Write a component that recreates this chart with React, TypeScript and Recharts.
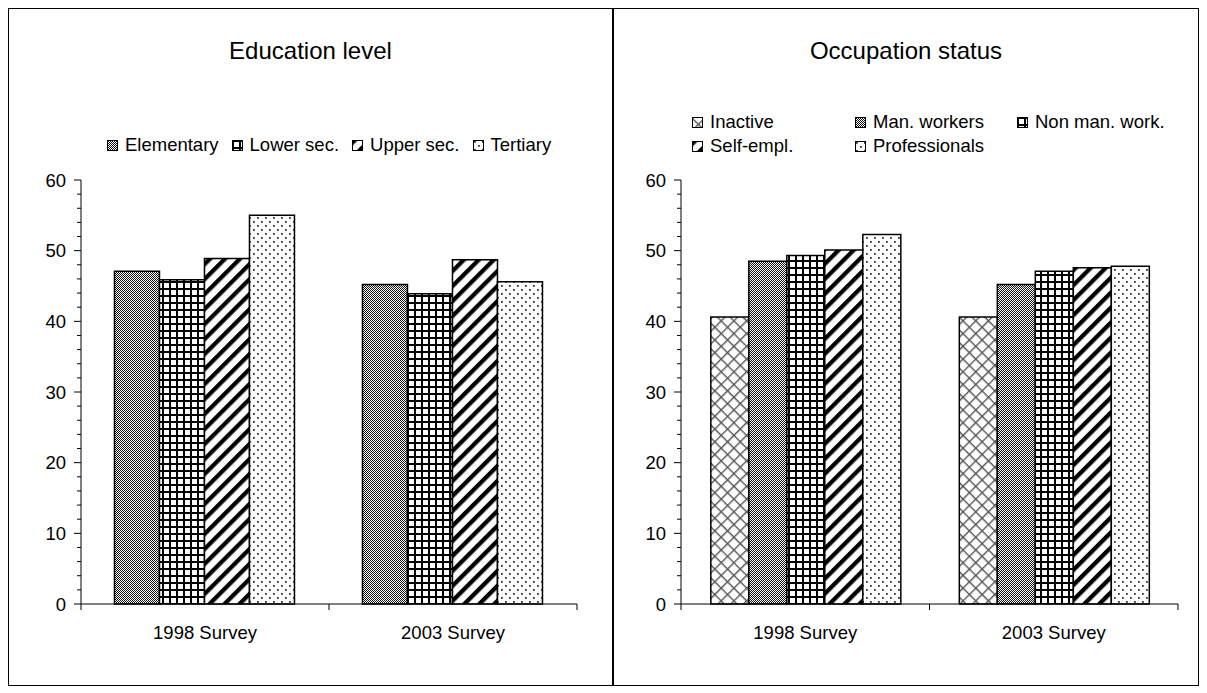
import { Bar, BarChart, XAxis, YAxis } from "recharts";

// survey categories and series values (percent)
const surveys = ["1998 Survey", "2003 Survey"];

const elementary = [47.1, 45.2];
const lowerSec = [45.9, 43.9];
const upperSec = [48.9, 48.7];
const tertiary = [55.0, 45.6];

const inactive = [40.6, 40.6];
const manWorkers = [48.5, 45.2];
const nonManWork = [49.3, 47.1];
const selfEmpl = [50.1, 47.6];
const professionals = [52.3, 47.8];

const yTicks = [0, 2, 4, 6, 8, 10, 12, 14, 16, 18, 20, 22, 24, 26, 28, 30, 32, 34, 36, 38, 40, 42, 44, 46, 48, 50, 52, 54, 56, 58, 60];

const FONT = "'Liberation Sans', Arial, Helvetica, sans-serif";
const LABEL_SIZE = 18.5;

type Series = { key: string; label: string; values: number[]; pattern: string };

const educationSeries: Series[] = [
  { key: "elementary", label: "Elementary", values: elementary, pattern: "pat-check" },
  { key: "lowerSec", label: "Lower sec.", values: lowerSec, pattern: "pat-grid" },
  { key: "upperSec", label: "Upper sec.", values: upperSec, pattern: "pat-stripe" },
  { key: "tertiary", label: "Tertiary", values: tertiary, pattern: "pat-dots" },
];

const occupationSeries: Series[] = [
  { key: "inactive", label: "Inactive", values: inactive, pattern: "pat-cross" },
  { key: "manWorkers", label: "Man. workers", values: manWorkers, pattern: "pat-check" },
  { key: "nonManWork", label: "Non man. work.", values: nonManWork, pattern: "pat-grid" },
  { key: "selfEmpl", label: "Self-empl.", values: selfEmpl, pattern: "pat-stripe" },
  { key: "professionals", label: "Professionals", values: professionals, pattern: "pat-dots" },
];

function buildRows(series: Series[]) {
  return surveys.map((name, i) => {
    const row: Record<string, string | number> = { name };
    series.forEach((s) => {
      row[s.key] = s.values[i];
    });
    return row;
  });
}

// shared fill patterns, referenced by bars and legend swatches
function PatternDefs() {
  return (
    <svg width={0} height={0} style={{ position: "absolute" }} aria-hidden>
      <defs>
        <pattern id="pat-check" width={2} height={2} patternUnits="userSpaceOnUse">
          <rect width={2} height={2} fill="#fff" />
          <rect x={0} y={0} width={1} height={1} fill="#111" />
          <rect x={1} y={1} width={1} height={1} fill="#111" />
        </pattern>
        <pattern id="pat-grid" width={7} height={7} patternUnits="userSpaceOnUse">
          <rect width={7} height={7} fill="#fff" />
          <rect x={0} y={0} width={7} height={2} fill="#000" />
          <rect x={0} y={0} width={2} height={7} fill="#000" />
        </pattern>
        <pattern
          id="pat-stripe"
          width={10.6}
          height={10}
          patternUnits="userSpaceOnUse"
          patternTransform="rotate(45)"
        >
          <rect width={10.6} height={10} fill="#fff" />
          <rect x={0} y={0} width={4.3} height={10} fill="#000" />
        </pattern>
        <pattern id="pat-dots" width={8} height={8} patternUnits="userSpaceOnUse">
          <rect width={8} height={8} fill="#fff" />
          <rect x={1} y={1} width={1.8} height={1.8} fill="#333" />
          <rect x={5} y={5} width={1.8} height={1.8} fill="#333" />
        </pattern>
        <pattern
          id="pat-cross"
          width={9}
          height={9}
          patternUnits="userSpaceOnUse"
          patternTransform="rotate(45)"
        >
          <rect width={9} height={9} fill="#fff" />
          <rect x={0} y={0} width={9} height={1.4} fill="#555" />
          <rect x={0} y={0} width={1.4} height={9} fill="#555" />
        </pattern>
      </defs>
    </svg>
  );
}

function YTick(props: any) {
  const { x, y, payload } = props;
  const v = payload.value as number;
  const major = v % 10 === 0;
  return (
    <g>
      <line x1={x - (major ? 7 : 4)} x2={x} y1={y} y2={y} stroke="#000" strokeWidth={1} />
      {major && (
        <text x={x - 15} y={y} dy={6.5} textAnchor="end" fontSize={LABEL_SIZE} fontFamily={FONT} fill="#000">
          {v}
        </text>
      )}
    </g>
  );
}

function XTick(props: any) {
  const { x, y, payload, index, visibleTicksCount } = props;
  const half = payload?.offset ?? 124;
  const last = index === (visibleTicksCount ?? surveys.length) - 1;
  return (
    <g>
      <line x1={x - half} x2={x - half} y1={y} y2={y + 6} stroke="#000" />
      {last && <line x1={x + half} x2={x + half} y1={y} y2={y + 6} stroke="#000" />}
      <text x={x} y={y + 35} textAnchor="middle" fontSize={LABEL_SIZE} fontFamily={FONT} fill="#000">
        {payload.value}
      </text>
    </g>
  );
}

function SurveyChart({
  series,
  width,
  marginLeft,
  marginRight,
  categoryGap,
}: {
  series: Series[];
  width: number;
  marginLeft: number;
  marginRight: number;
  categoryGap: string;
}) {
  return (
    <BarChart
      width={width}
      height={678}
      data={buildRows(series)}
      margin={{ top: 172, right: marginRight, bottom: 52, left: marginLeft }}
      barGap={0}
      barCategoryGap={categoryGap}
    >
      <XAxis
        dataKey="name"
        height={30}
        tickLine={false}
        tickSize={0}
        tickMargin={0}
        axisLine={{ stroke: "#000" }}
        tick={<XTick />}
        interval={0}
      />
      <YAxis
        width={60}
        domain={[0, 60]}
        ticks={yTicks}
        interval={0}
        tickLine={false}
        tickSize={0}
        tickMargin={0}
        axisLine={{ stroke: "#000" }}
        tick={<YTick />}
      />
      {series.map((s) => (
        <Bar
          key={s.key}
          dataKey={s.key}
          name={s.label}
          fill={`url(#${s.pattern})`}
          stroke="#000"
          strokeWidth={1.5}
          isAnimationActive={false}
        />
      ))}
    </BarChart>
  );
}

function Swatch({ pattern }: { pattern: string }) {
  return (
    <svg width={11} height={11} style={{ display: "block", flex: "none" }}>
      <rect x={0.5} y={0.5} width={10} height={10} fill={`url(#${pattern})`} stroke="#000" />
    </svg>
  );
}

function LegendItem({ s }: { s: Series }) {
  return (
    <span style={{ display: "inline-flex", alignItems: "center", gap: 7, whiteSpace: "nowrap" }}>
      <Swatch pattern={s.pattern} />
      {s.label}
    </span>
  );
}

const textBase = { position: "absolute" as const, fontFamily: FONT, color: "#000" };

export default function App() {
  return (
    <div style={{ position: "relative", width: 1191, height: 678, background: "#fff" }}>
      <PatternDefs />
      <div style={{ position: "absolute", left: 0, top: 0, width: 605, height: 678, border: "1px solid #000", boxSizing: "border-box" }} />
      <div style={{ position: "absolute", left: 605, top: 0, width: 586, height: 678, border: "1px solid #000", boxSizing: "border-box" }} />

      <div style={{ ...textBase, left: 0, width: 605, top: 29, fontSize: 24, lineHeight: "28px", textAlign: "center" }}>
        Education level
      </div>
      <div style={{ ...textBase, left: 605, width: 586, top: 29, fontSize: 24, lineHeight: "28px", textAlign: "center" }}>
        Occupation status
      </div>

      <div style={{ ...textBase, left: 99, top: 125, fontSize: LABEL_SIZE, lineHeight: "24px", display: "flex", gap: 13 }}>
        {educationSeries.map((s) => (
          <LegendItem key={s.key} s={s} />
        ))}
      </div>

      <div
        style={{
          ...textBase,
          left: 684,
          top: 102,
          fontSize: LABEL_SIZE,
          lineHeight: "24px",
          display: "grid",
          gridTemplateColumns: "163px 162px auto",
        }}
      >
        {occupationSeries.map((s) => (
          <LegendItem key={s.key} s={s} />
        ))}
      </div>

      <div style={{ position: "absolute", left: 0, top: 0 }}>
        <SurveyChart series={educationSeries} width={605} marginLeft={13} marginRight={36} categoryGap="13.5%" />
      </div>
      <div style={{ position: "absolute", left: 605, top: 0 }}>
        <SurveyChart series={occupationSeries} width={586} marginLeft={8} marginRight={21} categoryGap="12%" />
      </div>
    </div>
  );
}
